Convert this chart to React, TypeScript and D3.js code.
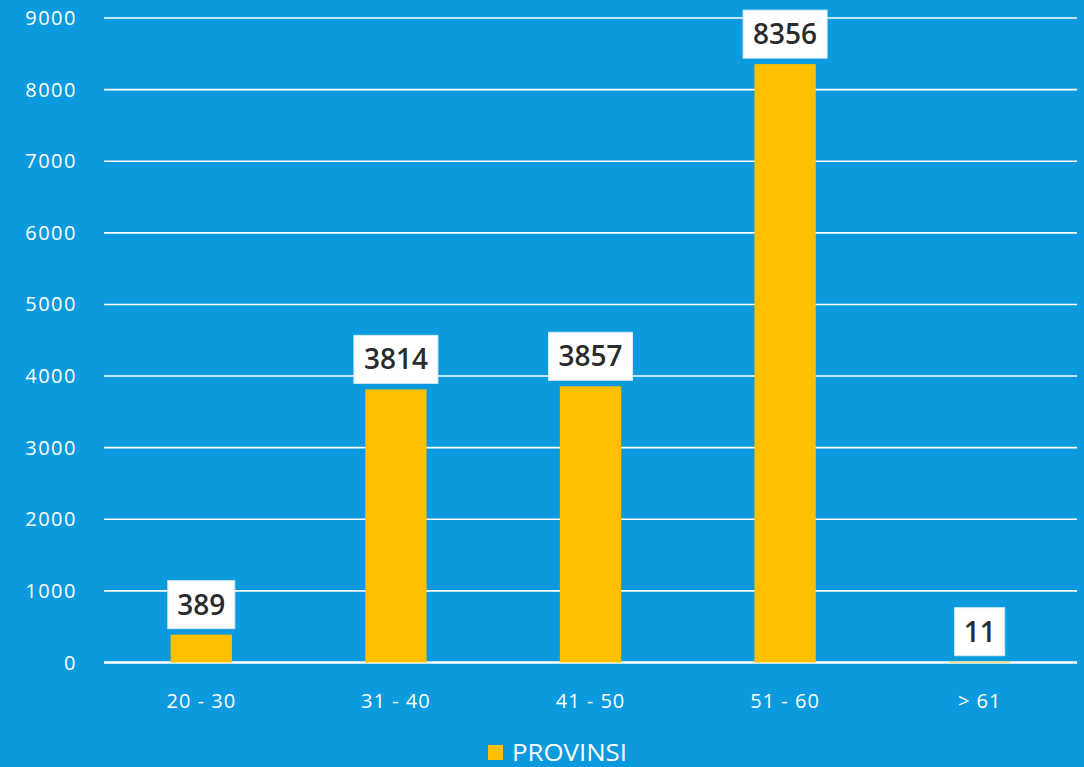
import React, { useLayoutEffect } from "react";
import * as d3 from "d3";

const categories = ["20 - 30", "31 - 40", "41 - 50", "51 - 60", "> 61"];
const values = [389, 3814, 3857, 8356, 11];
const yTicks = [0, 1000, 2000, 3000, 4000, 5000, 6000, 7000, 8000, 9000];
const seriesName = "PROVINSI";

const W = 1084;
const H = 767;
const BG = "#0B9ADE";
const BAR = "#FFC000";
const FONT = "'Open Sans', 'Noto Sans', sans-serif";

export default function App() {
  useLayoutEffect(() => {
    document.body.style.margin = "0";
  }, []);

  const x = d3.scaleBand<string>().domain(categories).range([104, 1077]).paddingInner(0).paddingOuter(0);
  const y = d3.scaleLinear().domain([0, 9000]).range([662.5, 18]);
  const barW = x.bandwidth() * 0.315;

  return (
    <svg width={W} height={H} style={{ display: "block" }}>
      <rect x={0} y={0} width={W} height={H} fill={BG} />
      {yTicks.map((t) => (
        <g key={t}>
          <line x1={104} x2={1077} y1={y(t)} y2={y(t)} stroke="#fff" strokeWidth={t === 0 ? 2.5 : 1.6} />
          <text x={77} y={y(t)} dy="0.35em" textAnchor="end" fill="#fff" fontFamily={FONT} fontSize={20} letterSpacing={1.5}>
            {t}
          </text>
        </g>
      ))}
      {categories.map((c, i) => {
        const cx = (x(c) as number) + x.bandwidth() / 2;
        const top = y(values[i]);
        const label = String(values[i]);
        const bw = 16 + 17 * label.length;
        const bh = 48;
        const by = top - 6 - bh;
        return (
          <g key={c}>
            <rect x={cx - barW / 2} y={top} width={barW} height={y(0) - top} fill={BAR} />
            <rect x={cx - bw / 2} y={by} width={bw} height={bh} fill="#fff" stroke="#d6ecf7" strokeWidth={1} />
            <text x={cx} y={by + bh / 2} dy="0.36em" textAnchor="middle" fill="#2b2b2b" fontFamily={FONT} fontWeight={600} fontSize={28}>
              {label}
            </text>
            <text x={cx} y={701} dy="0.35em" textAnchor="middle" fill="#fff" fontFamily={FONT} fontSize={20} letterSpacing={1}>
              {c}
            </text>
          </g>
        );
      })}
      <rect x={488} y={745} width={15} height={15} fill={BAR} />
      <text x={512} y={760.5} fill="#fff" fontFamily={FONT} fontSize={23} textLength={115} lengthAdjust="spacingAndGlyphs">
        {seriesName}
      </text>
    </svg>
  );
}
